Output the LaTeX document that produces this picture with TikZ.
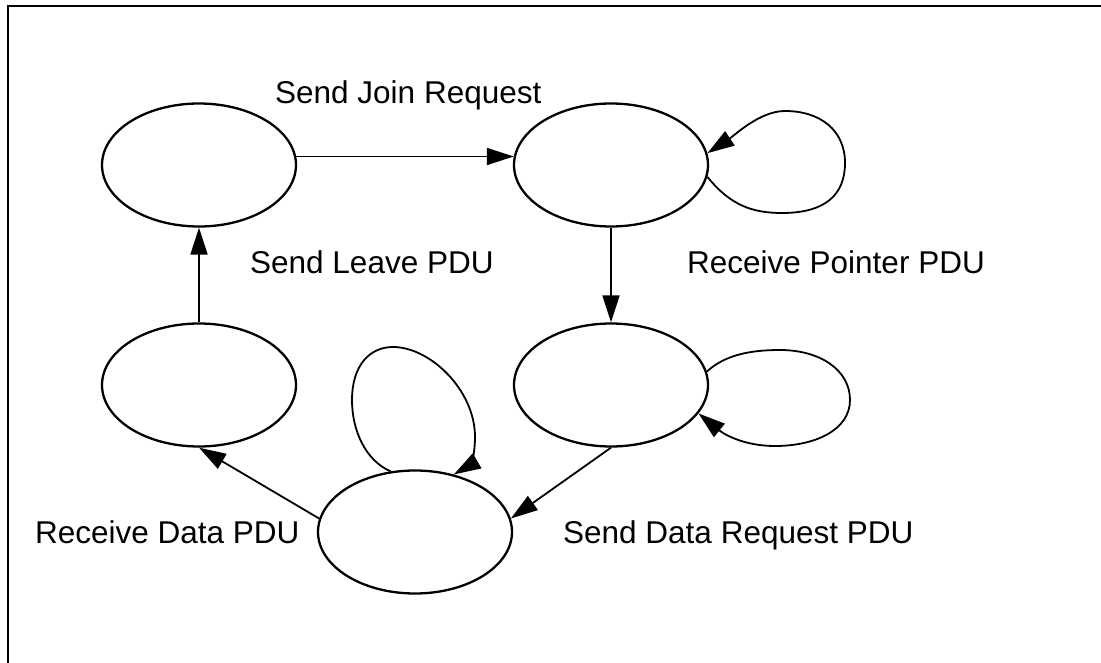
\documentclass[tikz,border=0pt]{standalone}
\usepackage{fontspec}
\setmainfont{Liberation Sans}
\usetikzlibrary{shapes.geometric,arrows.meta}
\begin{document}
\begin{tikzpicture}[x=1pt,y=-1pt,
  state/.style={draw,ellipse,line width=2.3pt,minimum width=194pt,minimum height=123pt,inner sep=0pt},
  conn/.style={line width=1.8pt,-{Triangle[length=27pt,width=17pt]}},
  lbl/.style={font=\fontsize{31.5}{36}\selectfont,inner sep=0pt,anchor=base west}]
\useasboundingbox (0,0) rectangle (1101,663);
\draw[line width=2.2pt] (8,663) -- (8,6) -- (1101,6);

\node[state] (e1) at (199,165) {};
\node[state] (e2) at (611,165) {};
\node[state] (e3) at (611,385) {};
\node[state] (e4) at (199,385) {};
\node[state] (e5) at (415,532) {};

\draw[conn] (e1.5) -- (e2.175);
\draw[conn] (e2.south) -- (e3.north);
\draw[conn] (e3.south) -- (e5.8);
\draw[conn] (e5.172) -- (e4.south);
\draw[conn] (e4.north) -- (e1.south);

\draw[conn] (e2.-7) .. controls (730,205) and (752,213) .. (782,213)
  .. controls (825,213) and (845,195) .. (845,163)
  .. controls (845,130) and (820,111) .. (785,111)
  .. controls (760,111) and (735,135) .. (e2.7);
\draw[conn] (e3.8) .. controls (725,355) and (750,350) .. (780,350)
  .. controls (820,350) and (850,370) .. (850,400)
  .. controls (850,430) and (815,446) .. (775,446)
  .. controls (745,446) and (725,435) .. (e3.-18);
\draw[conn] (e5.112) .. controls (365,460) and (352,430) .. (352,400)
  .. controls (352,365) and (370,347) .. (393,347)
  .. controls (430,347) and (475,390) .. (475,437)
  .. controls (475,455) and (470,465) .. (e5.56);

\node[lbl] (l1) at (275,104) {Send Join Request};
\node[lbl] (l2) at (250,274) {Send Leave PDU};
\node[lbl] (l3) at (687,274) {Receive Pointer PDU};
\node[lbl] (l4) at (35,543) {Receive Data PDU};
\node[lbl] (l5) at (563,543) {Send Data Request PDU};
\end{tikzpicture}
\end{document}
